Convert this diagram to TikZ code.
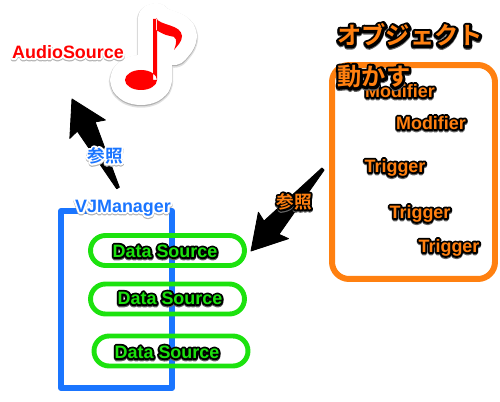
\documentclass[tikz,border=0pt]{standalone}
\usepackage{fontspec}
\usepackage{xcolor}
\usetikzlibrary{calc}
\newfontfamily\latinfont{Liberation Sans Bold}
\newfontfamily\latinhalo{Liberation Sans Bold}[FakeBold=22]
\newfontfamily\jpfont{Noto Sans CJK JP Bold}
\newfontfamily\jphalo{Noto Sans CJK JP Bold}[FakeBold=22]
\definecolor{vjblue}{RGB}{26,117,255}
\definecolor{objorange}{RGB}{255,128,16}
\definecolor{dsgreen}{RGB}{28,226,14}
\definecolor{notered}{RGB}{255,0,0}
% shadow, then halo, then the letters
\newcommand{\halotext}[3]{\pgfsetroundjoin\rlap{\raisebox{-.7pt}{\color{#2}\halofont #3}}\rlap{\color{#1}\halofont #3}#3}
\newcommand{\blackhalo}[1]{\halotext{black}{black!60}{#1}}
\newcommand{\whitehalo}[1]{\halotext{white}{black!30}{#1}}
\newcommand{\notepath}{(141,80) ellipse [x radius=16, y radius=10]
    (153,19) rectangle (157,80)
    (156,18) .. controls (160,26) and (181,24) .. (182,36) .. controls (182,42) and (177,46) .. (174,50)
    .. controls (178,40) and (176,36) .. (170,36) .. controls (164,35) and (160,32) .. (156,30) -- cycle}

\begin{document}
\begin{tikzpicture}[
    x=0.02cm, y=-0.02cm,
    latin/.style={inner sep=0pt, text height=8pt, text depth=1pt, font={\latinfont\fontsize{10.2}{12}\selectfont\let\halofont\latinhalo}},
    jpsmall/.style={inner sep=0pt, text height=8pt, text depth=1pt, font={\jpfont\fontsize{10}{12}\selectfont\let\halofont\jphalo}},
    jplarge/.style={inner sep=0pt, text height=11pt, text depth=1pt, font={\jpfont\fontsize{13.8}{16}\selectfont\let\halofont\jphalo}},
    manager/.style={rectangle, draw=vjblue, line width=3.4pt, line join=round, minimum width=2.22cm, minimum height=3.54cm, outer sep=0pt},
    object/.style={rectangle, draw=objorange, line width=3.4pt, rounded corners=0.34cm, minimum width=3.26cm, minimum height=4.28cm, outer sep=0pt},
    source/.style={rectangle, draw=dsgreen, line width=2.8pt, rounded corners=0.3cm, minimum width=3.08cm, minimum height=0.6cm, outer sep=0pt},
    taper/.style={draw=black, fill=black, line width=0.5pt, line join=round, to path={
        ($(\tikztostart)!.03cm!90:(\tikztotarget)$)
        -- ($(\tikztotarget)!.62cm!(\tikztostart)!.2cm!-90:(\tikztostart)$)
        -- ($(\tikztotarget)!.68cm!(\tikztostart)!.4cm!-90:(\tikztostart)$)
        -- (\tikztotarget)
        -- ($(\tikztotarget)!.68cm!(\tikztostart)!.4cm!90:(\tikztostart)$)
        -- ($(\tikztotarget)!.62cm!(\tikztostart)!.2cm!90:(\tikztostart)$)
        -- ($(\tikztostart)!.03cm!-90:(\tikztotarget)$) -- cycle}}
]
    \useasboundingbox (0,0) rectangle (500,402);

    % music note
    \filldraw[black!12, line width=0.65cm, line join=round, yshift=-0.03cm] \notepath;
    \filldraw[black!30, line width=0.61cm, line join=round, yshift=-0.02cm] \notepath;
    \filldraw[white, line width=0.6cm, line join=round] \notepath;
    \fill[notered] \notepath;

    % boxes
    \node[manager] (manager) at (116.5,299.5) {};
    \node[object] (object) at (413.5,172) {};
    \node[source] (source1) at (167.5,250.5) {};
    \node[source] (source2) at (167.5,299) {};
    \node[source] (source3) at (171,351) {};

    % arrows
    \coordinate (managertail) at (118,188);
    \coordinate (audiotip) at (72,99);
    \coordinate (objecttail) at (323,169);
    \coordinate (sourcetip) at (251,251);
    \draw[taper] (managertail) to (audiotip);
    \draw[taper] (objecttail) to (sourcetip);

    % labels
    \node[latin, text=notered] (audiolabel) at (68,52) {\whitehalo{AudioSource}};
    \node[latin, text=vjblue] (managerlabel) at (123,206) {\whitehalo{VJManager}};
    \node[jpsmall, text=vjblue] (refleft) at (105,156) {\whitehalo{参照}};
    \node[jpsmall, text=objorange] (refright) at (294,202) {\blackhalo{参照}};
    \node[latin, text=dsgreen] (sourcelabel1) at (165,251) {\blackhalo{Data Source}};
    \node[latin, text=dsgreen] (sourcelabel2) at (170,298) {\blackhalo{Data Source}};
    \node[latin, text=dsgreen] (sourcelabel3) at (167,352) {\blackhalo{Data Source}};
    \node[latin, text=objorange] (modifier1) at (400,91) {\blackhalo{Modifier}};
    \node[latin, text=objorange] (modifier2) at (431,123) {\blackhalo{Modifier}};
    \node[latin, text=objorange] (trigger1) at (395,166) {\blackhalo{Trigger}};
    \node[latin, text=objorange] (trigger2) at (420,212) {\blackhalo{Trigger}};
    \node[latin, text=objorange] (trigger3) at (449,246) {\blackhalo{Trigger}};
    \node[jplarge, text=objorange] (title1) at (410,36) {\blackhalo{オブジェクト}};
    \node[jplarge, text=objorange] (title2) at (374,77) {\blackhalo{動かす}};
\end{tikzpicture}
\end{document}
